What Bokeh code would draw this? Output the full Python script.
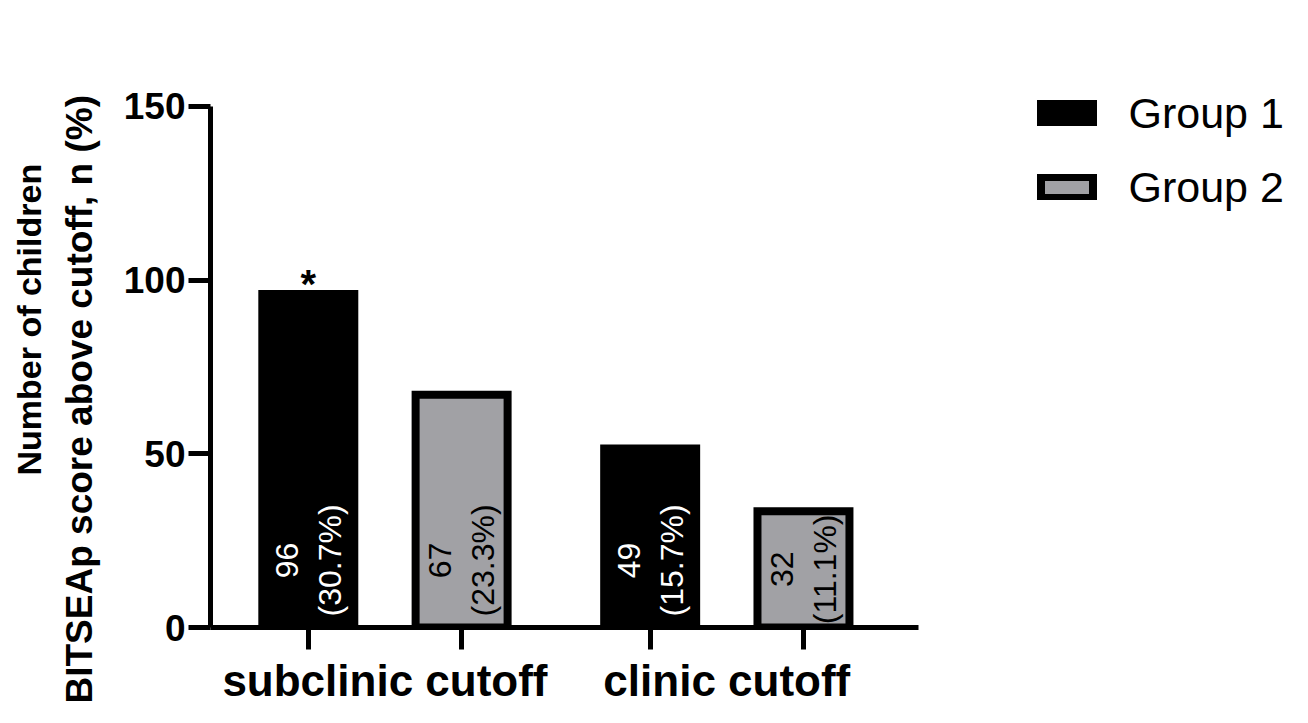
from math import pi
from bokeh.plotting import figure
from bokeh.models import (ColumnDataSource, Range1d, FixedTicker, LinearAxis,
                          Legend, LegendItem, Title)
from bokeh.core.properties import value
from bokeh.embed import file_html
from bokeh.resources import INLINE

# ---- data ----
categories = ["subclinic cutoff", "clinic cutoff"]
groups = ["Group 1", "Group 2"]
group1_counts = [96, 51.5]
group2_counts = [67, 33.5]
group1_labels = ["96\n(30.7%)", "49\n(15.7%)"]
group2_labels = ["67\n(23.3%)", "32\n(11.1%)"]
group1_marks = ["*", ""]
group2_marks = ["", ""]
y_ticks = [0, 50, 100, 150]
y_title_1 = "Number of children"
y_title_2 = "BITSEAp score above cutoff, n (%)"

# ---- style ----
FONT = "Liberation Sans"
BLACK = "#000000"
GRAY = "#a1a1a5"
LABEL_CAP = 19.3
GROUP_GAP = 0.23
BAR_W = 0.6
X_AXIS = (-0.138, 4.48)       # visible extent of the x axis
Y_AXIS = (0, 150)             # visible extent of the y axis

n_g = len(groups)


def xpos(ci, gi):
    return ci * (n_g + GROUP_GAP) + gi + 0.5


group_centers = [ci * (n_g + GROUP_GAP) + n_g / 2 for ci in range(len(categories))]
bar_ticks = sorted(xpos(ci, gi) for ci in range(len(categories)) for gi in range(n_g))

# frame is wider / taller than the drawn axes so that the legend fits inside it
p = figure(width=1292, height=707, x_range=Range1d(X_AXIS[0], 6.92),
           y_range=Range1d(0, 157.47), output_backend="svg", toolbar_location=None,
           min_border_left=210, min_border_right=0,
           min_border_top=80, min_border_bottom=79)


def make_source(gi, counts, labels, marks):
    return ColumnDataSource(dict(
        x=[xpos(ci, gi) for ci in range(len(categories))],
        top=counts,
        label=labels,
        label_y=[min(v / 2, LABEL_CAP) for v in counts],
        mark=marks,
    ))


s1 = make_source(0, group1_counts, group1_labels, group1_marks)
s2 = make_source(1, group2_counts, group2_labels, group2_marks)

bar_style = dict(line_color=BLACK, line_width=8, line_join="miter")
r1 = p.vbar(x="x", top="top", width=BAR_W, source=s1, fill_color=BLACK, **bar_style)
r2 = p.vbar(x="x", top="top", width=BAR_W, source=s2, fill_color=GRAY, **bar_style)

for src, col in ((s1, "white"), (s2, "black")):
    p.text(x="x", y="label_y", text="label", source=src, angle=pi / 2,
           text_align="center", text_baseline="middle", text_color=col,
           text_font=value(FONT), text_font_size="32px", text_line_height=1.2)
    p.text(x="x", y="top", text="mark", source=src, text_align="center",
           text_baseline="alphabetic", text_color="black",
           text_font=value(FONT), text_font_style="bold",
           text_font_size="40px", y_offset=-10)

# x axis: ticks under every bar
xa = p.xaxis[0]
xa.bounds = X_AXIS
xa.ticker = FixedTicker(ticks=bar_ticks)
xa.axis_line_width = 5
xa.axis_line_color = BLACK
xa.major_tick_line_width = 5
xa.major_tick_line_color = BLACK
xa.major_tick_out = 22
xa.major_tick_in = 0
xa.minor_tick_line_color = None
xa.major_label_text_font_size = "1px"
xa.major_label_text_alpha = 0
xa.major_label_standoff = 0

# category names under each pair of bars
cat_axis = LinearAxis(ticker=FixedTicker(ticks=group_centers),
                      major_label_overrides={c: name for c, name in zip(group_centers, categories)})
cat_axis.axis_line_color = None
cat_axis.major_tick_line_color = None
cat_axis.minor_tick_line_color = None
cat_axis.major_tick_out = 0
cat_axis.major_tick_in = 0
cat_axis.major_label_standoff = 6
cat_axis.major_label_text_font = FONT
cat_axis.major_label_text_font_size = "44px"
cat_axis.major_label_text_font_style = "bold"
cat_axis.major_label_text_color = BLACK
p.add_layout(cat_axis, "below")

ya = p.yaxis[0]
ya.bounds = Y_AXIS
ya.ticker = FixedTicker(ticks=y_ticks)
ya.axis_line_width = 5
ya.axis_line_color = BLACK
ya.major_tick_line_width = 5
ya.major_tick_line_color = BLACK
ya.major_tick_out = 22
ya.major_tick_in = 0
ya.minor_tick_line_color = None
ya.major_label_standoff = 3
ya.major_label_text_font = FONT
ya.major_label_text_font_size = "37px"
ya.major_label_text_font_style = "bold"
ya.major_label_text_color = BLACK

p.xgrid.visible = False
p.ygrid.visible = False
p.outline_line_color = None

# ---- y title: two lines as left-side titles ----
t2 = Title(text=y_title_2, align="left", vertical_align="bottom", offset=-76,
           standoff=41, text_font=FONT, text_font_style="bold",
           text_font_size="37px", text_color=BLACK)
t1 = Title(text=y_title_1, align="left", vertical_align="bottom", offset=152,
           standoff=-22, text_font=FONT, text_font_style="bold",
           text_font_size="34px", text_color=BLACK)
p.add_layout(t2, "left")
p.add_layout(t1, "left")

# ---- legend ----
legend = Legend(items=[LegendItem(label=groups[0], renderers=[r1]),
                       LegendItem(label=groups[1], renderers=[r2])],
                location=(823.5, 415), orientation="vertical",
                glyph_width=65, glyph_height=26, label_standoff=30,
                spacing=24, padding=0, margin=0, label_height=50,
                border_line_alpha=0, background_fill_alpha=0,
                label_text_font=FONT, label_text_font_size="43px",
                label_text_color=BLACK)
p.add_layout(legend)

open("out.html", "w").write(file_html(p, INLINE))
